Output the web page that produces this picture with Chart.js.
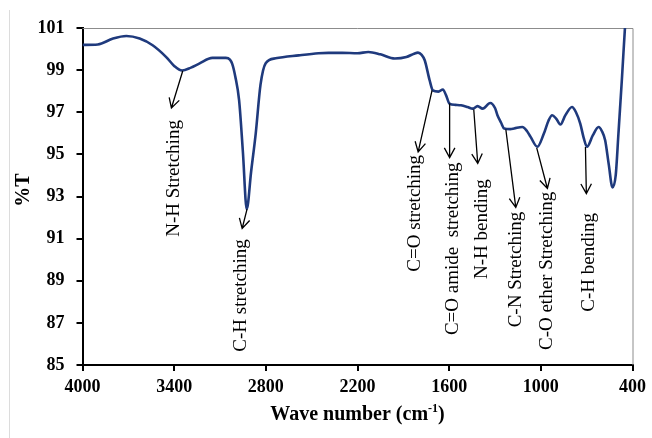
<!DOCTYPE html>
<html>
<head>
<meta charset="utf-8">
<script src="https://cdn.jsdelivr.net/npm/chart.js@4.4.1/dist/chart.umd.min.js"></script>
<style>
  html, body { margin: 0; padding: 0; background: #fff; }
  canvas { display: block; }
</style>
</head>
<body>
<canvas id="ftir" width="652" height="438"></canvas>
<script>
'use strict';

// FTIR spectrum: wavenumber (cm-1) vs transmittance (%T)
const wavenumbers = [
  4000, 3900, 3800, 3713, 3626, 3541, 3452, 3400, 3348, 3290, 3236, 3150, 3062,
  3035, 3020, 3000, 2975, 2950, 2925, 2896, 2866, 2835, 2801, 2736, 2585, 2455, 2390,
  2300, 2200, 2129, 2050, 1956, 1880, 1830, 1804, 1780, 1760, 1728, 1707, 1670,
  1641, 1620, 1598, 1560, 1522, 1480, 1446, 1414, 1381, 1331, 1300, 1284, 1260,
  1240, 1200, 1175, 1121, 1090, 1067, 1023, 980, 950, 926, 900, 872, 840, 796,
  770, 742, 720, 698, 660, 622, 600, 579, 555, 531, 510, 492, 470, 449, 440
];
const transmittance = [
  100.20, 100.22, 100.50, 100.62, 100.50, 100.18, 99.62, 99.20, 98.98, 99.12, 99.31, 99.58, 99.58,
  99.50, 99.30, 98.70, 97.57, 95.10, 92.40, 94.20, 96.00, 98.30, 99.33, 99.56, 99.70, 99.80, 99.82,
  99.82, 99.80, 99.86, 99.75, 99.55, 99.62, 99.78, 99.83, 99.72, 99.47, 98.52, 98.04, 97.98,
  98.08, 97.80, 97.41, 97.35, 97.33, 97.25, 97.17, 97.29, 97.17, 97.44, 97.20, 96.86, 96.50,
  96.23, 96.20, 96.23, 96.30, 96.10, 95.83, 95.36, 95.99, 96.60, 96.86, 96.70, 96.42, 96.85, 97.25,
  97.00, 96.46, 95.80, 95.36, 95.90, 96.30, 96.10, 95.67, 94.50, 93.43, 94.00, 95.99, 98.50, 101.05, 102.0
];

const xTicks = [4000, 3400, 2800, 2200, 1600, 1000, 400];
const yTicks = [85, 87, 89, 91, 93, 95, 97, 99, 101];

// band assignments: arrow runs from the band on the curve to the tip, label sits below
const bandNames = [
  'N-H Stretching', 'C-H stretching', 'C=O stretching', 'C=O amide  stretching',
  'N-H bending', 'C-N Stretching', 'C-O ether Stretching', 'C-H bending'
];
const bandX = [3344, 2923, 1712, 1597, 1439, 1229, 1027, 708];
const bandT = [98.96, 92.40, 98.04, 97.41, 97.13, 96.18, 95.31, 95.35];
const tipX = [3418, 2955, 1803, 1597, 1413, 1164, 957, 702];
const tipT = [97.20, 91.48, 95.12, 94.85, 94.57, 92.48, 93.38, 93.14];
const labelX = [3398, 2964, 1825, 1576, 1385, 1164, 957, 686];
const labelT = [91.09, 85.63, 89.43, 86.42, 89.08, 86.79, 85.71, 87.53];

const serif = '"Liberation Serif", "Times New Roman", serif';

const bandLabels = {
  id: 'bandLabels',
  beforeDatasetsDraw(chart) {
    const { ctx, chartArea: a } = chart;
    ctx.save();
    // thin grey frame on the top and right of the plot
    ctx.strokeStyle = '#8c8c8c';
    ctx.lineWidth = 1;
    ctx.beginPath();
    ctx.moveTo(a.left, a.top + 0.5);
    ctx.lineTo(a.right + 0.5, a.top + 0.5);
    ctx.lineTo(a.right + 0.5, a.bottom);
    ctx.stroke();
    // faint outer border on the left
    ctx.strokeStyle = '#dcdcdc';
    ctx.beginPath();
    ctx.moveTo(9.5, 10);
    ctx.lineTo(9.5, chart.height);
    ctx.stroke();
    ctx.restore();
  },
  afterDatasetsDraw(chart) {
    const { ctx } = chart;
    const xs = chart.scales.x;
    const ys = chart.scales.y;
    ctx.save();
    ctx.strokeStyle = '#000';
    ctx.fillStyle = '#000';
    ctx.lineWidth = 1.3;
    bandNames.forEach((name, i) => {
      const x0 = xs.getPixelForValue(bandX[i]);
      const y0 = ys.getPixelForValue(bandT[i]);
      const x1 = xs.getPixelForValue(tipX[i]);
      const y1 = ys.getPixelForValue(tipT[i]);
      ctx.beginPath();
      ctx.moveTo(x0, y0);
      ctx.lineTo(x1, y1);
      const ang = Math.atan2(y1 - y0, x1 - x0);
      const head = 11;
      const spread = 0.5;
      ctx.moveTo(x1 - head * Math.cos(ang - spread), y1 - head * Math.sin(ang - spread));
      ctx.lineTo(x1, y1);
      ctx.lineTo(x1 - head * Math.cos(ang + spread), y1 - head * Math.sin(ang + spread));
      ctx.stroke();

      const lx = xs.getPixelForValue(labelX[i]);
      const ly = ys.getPixelForValue(labelT[i]);
      ctx.save();
      ctx.translate(lx, ly);
      ctx.rotate(-Math.PI / 2);
      ctx.font = '19px ' + serif;
      ctx.textAlign = 'left';
      ctx.textBaseline = 'middle';
      ctx.fillText(name, 0, 0);
      ctx.restore();
    });
    ctx.restore();
  },
  afterDraw(chart) {
    const { ctx, chartArea: a } = chart;
    ctx.save();
    ctx.fillStyle = '#000';
    // x axis title with superscript
    const main = 'Wave number (cm';
    const sup = '-1';
    const tail = ')';
    const big = 'bold 20px ' + serif;
    const small = 'bold 12px ' + serif;
    ctx.font = big;
    const wMain = ctx.measureText(main).width;
    const wTail = ctx.measureText(tail).width;
    ctx.font = small;
    const wSup = ctx.measureText(sup).width;
    let x = (a.left + a.right) / 2 - (wMain + wSup + wTail) / 2;
    const base = 420;
    ctx.textBaseline = 'alphabetic';
    ctx.textAlign = 'left';
    ctx.font = big;
    ctx.fillText(main, x, base);
    x += wMain;
    ctx.font = small;
    ctx.fillText(sup, x, base - 8);
    x += wSup;
    ctx.font = big;
    ctx.fillText(tail, x, base);

    // y axis title
    ctx.translate(24, 190);
    ctx.rotate(-Math.PI / 2);
    ctx.textAlign = 'center';
    ctx.textBaseline = 'middle';
    ctx.fillText('%T', 0, 0);
    ctx.restore();
  }
};

new Chart(document.getElementById('ftir').getContext('2d'), {
  type: 'line',
  data: {
    datasets: [{
      data: wavenumbers.map((w, i) => ({ x: w, y: transmittance[i] })),
      borderColor: '#1f3a7d',
      borderWidth: 2.6,
      pointRadius: 0,
      fill: false,
      cubicInterpolationMode: 'monotone'
    }]
  },
  options: {
    responsive: false,
    animation: false,
    layout: { padding: { top: 28, right: 16, left: 0, bottom: 0 } },
    plugins: {
      legend: { display: false },
      tooltip: { enabled: false }
    },
    scales: {
      x: {
        type: 'linear',
        reverse: true,
        min: 400,
        max: 4000,
        afterBuildTicks: (scale) => { scale.ticks = xTicks.map(v => ({ value: v })); },
        afterFit: (scale) => { scale.height = 73; },
        grid: { drawOnChartArea: false, drawTicks: true, tickLength: 6, color: '#000', lineWidth: 2 },
        border: { color: '#000', width: 2 },
        ticks: {
          color: '#000', padding: 6, maxRotation: 0,
          font: { family: serif, size: 18, weight: 'bold' },
          callback: (v) => String(v)
        }
      },
      y: {
        min: 85,
        max: 101,
        afterBuildTicks: (scale) => { scale.ticks = yTicks.map(v => ({ value: v })); },
        afterFit: (scale) => { scale.width = 82.5; },
        grid: { drawOnChartArea: false, drawTicks: true, tickLength: 6, color: '#000', lineWidth: 2 },
        border: { color: '#000', width: 2 },
        ticks: {
          color: '#000', padding: 12,
          font: { family: serif, size: 18, weight: 'bold' },
          callback: (v) => String(v)
        }
      }
    }
  },
  plugins: [bandLabels]
});
</script>
</body>
</html>
